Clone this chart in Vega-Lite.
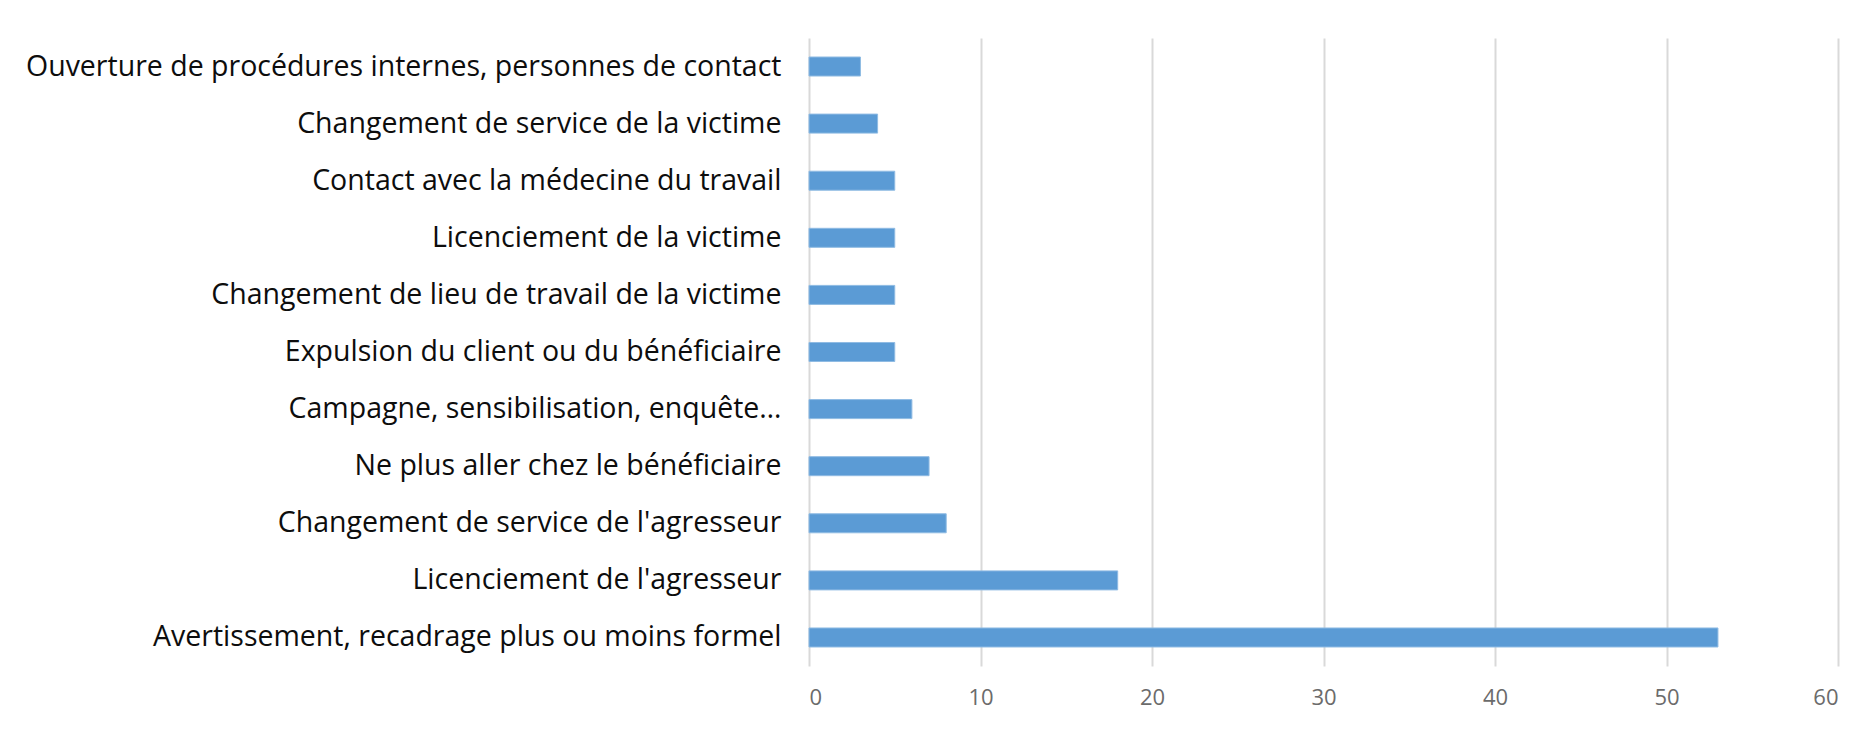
{
  "$schema": "https://vega.github.io/schema/vega-lite/v6.json",
  "autosize": {"type": "none"},
  "width": 1029,
  "height": 628,
  "padding": {"left": 809, "top": 38, "right": 30, "bottom": 64},
  "background": "white",
  "config": {"view": {"stroke": null}},
  "data": {
    "values": [
      {"action": "Ouverture de procédures internes, personnes de contact", "n": 3},
      {"action": "Changement de service de la victime", "n": 4},
      {"action": "Contact avec la médecine du travail\u2007", "n": 5},
      {"action": "Licenciement de la victime", "n": 5},
      {"action": "Changement de lieu de travail de la victime", "n": 5},
      {"action": "Expulsion du client ou du bénéficiaire", "n": 5},
      {"action": "Campagne, sensibilisation, enquête…", "n": 6},
      {"action": "Ne plus aller chez le bénéficiaire\u2007", "n": 7},
      {"action": "Changement de service de l'agresseur", "n": 8},
      {"action": "Licenciement de l'agresseur\u2007", "n": 18},
      {"action": "Avertissement, recadrage plus ou moins formel", "n": 53}
    ]
  },
  "mark": {"type": "bar", "color": "#5b9bd5", "stroke": "#8fbbe3", "strokeWidth": 1},
  "encoding": {
    "y": {
      "field": "action",
      "type": "nominal",
      "sort": null,
      "scale": {"paddingInner": 0.667, "paddingOuter": 0.333},
      "axis": {
        "title": null,
        "ticks": false,
        "domain": false,
        "labelPadding": 28,
        "labelFont": "Open Sans",
        "labelFontSize": 28.5,
        "labelColor": "#0d0d0d",
        "labelLimit": 900
      }
    },
    "x": {
      "field": "n",
      "type": "quantitative",
      "scale": {"domain": [0, 60], "nice": false},
      "axis": {
        "title": null,
        "values": [0, 10, 20, 30, 40, 50, 60],
        "ticks": false,
        "domain": false,
        "grid": true,
        "gridColor": "#d9d9d9",
        "gridWidth": 2,
        "labelPadding": 21,
        "labelFont": "Open Sans",
        "labelFontSize": 22,
        "labelColor": "#6b6b6b"
      }
    }
  }
}
